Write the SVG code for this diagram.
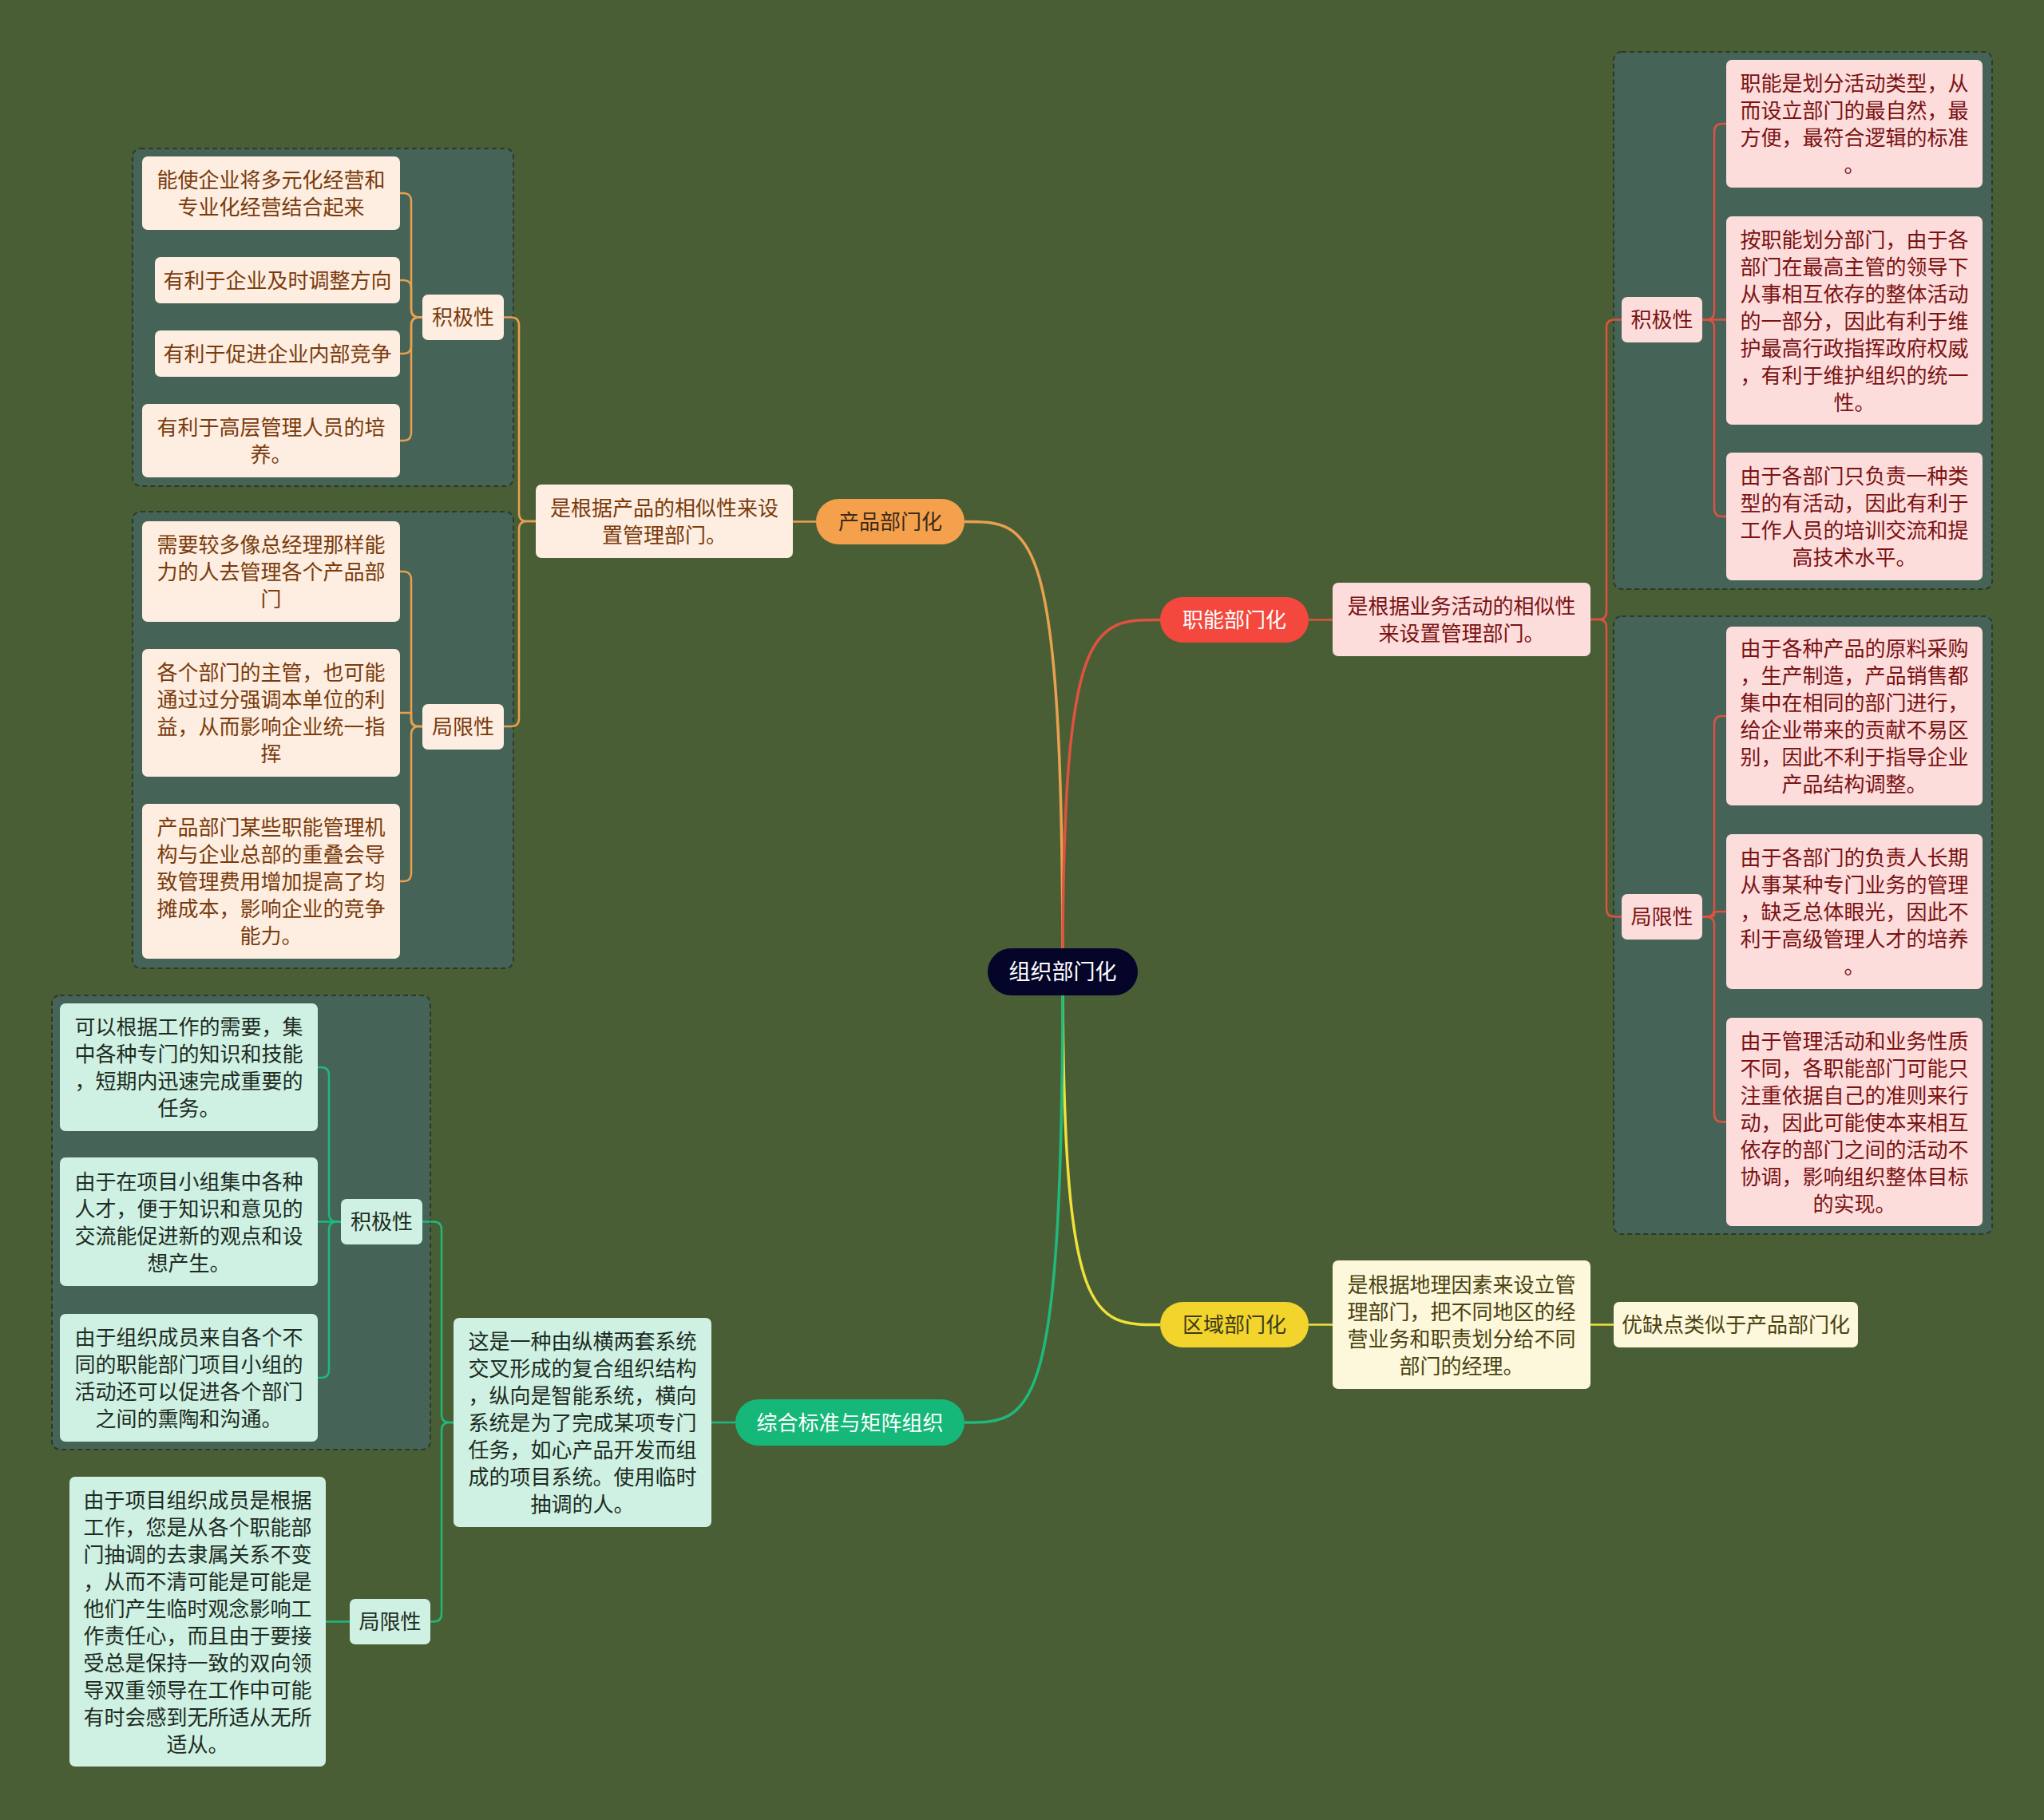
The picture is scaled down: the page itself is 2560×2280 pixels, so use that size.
<svg xmlns="http://www.w3.org/2000/svg" width="2560" height="2280" viewBox="0 0 2560 2280">
<style>
text{font-family:"Noto Sans CJK SC","Noto Sans",sans-serif;font-size:26px;text-anchor:middle;dominant-baseline:central;transform:translateY(-2px)}
.grp{fill:#466357;stroke:#2c3a2a;stroke-width:2;stroke-dasharray:6 4}
.pbox{fill:#fdeee1}.ptx{fill:#7a3b0c}
.fbox{fill:#fddcdc}.ftx{fill:#7a1212}
.rbox{fill:#fdf8dc}.rtx{fill:#4a4210}
.gbox{fill:#cff1e3}.gtx{fill:#1d2b22}
.c{fill:none;stroke-width:2.5}
.m{fill:none;stroke-width:3.5}
.co{stroke:#e8a14f}.cr{stroke:#e0523f}.cy{stroke:#efe03a}.cg{stroke:#1fb97c}
</style>
<rect width="2560" height="2280" fill="#4a5e35"/>

<rect class="grp" x="166" y="186" width="477" height="423" rx="10"/>
<rect class="grp" x="166" y="641" width="477" height="572" rx="10"/>
<rect class="grp" x="2021" y="65" width="474" height="673" rx="10"/>
<rect class="grp" x="2021" y="772" width="474" height="774" rx="10"/>
<rect class="grp" x="65" y="1247" width="474" height="569" rx="10"/>

<g id="connectors">
<path class="m co" d="M1331 1217.5 C1331 653.5 1294 653.5 1208 653.5"/>
<path class="m cr" d="M1331 1217.5 C1331 776.5 1368 776.5 1453 776.5"/>
<path class="m cy" d="M1331 1217.5 C1331 1659.5 1368 1659.5 1453 1659.5"/>
<path class="m cg" d="M1331 1217.5 C1331 1782 1294 1782 1208 1782"/>

<path class="c co" d="M1022 653.5 H993"/>
<path class="c co" d="M671 653 H660 Q650 653 650 643 V407.5 Q650 397.5 640 397.5 H631"/>
<path class="c co" d="M671 653 H660 Q650 653 650 663 V900 Q650 910 640 910 H631"/>
<path class="c co" d="M529 397.5 H525 Q515 397.5 515 387.5 V252 Q515 242 505 242 H501"/>
<path class="c co" d="M529 397.5 H525 Q515 397.5 515 387.5 V361 Q515 351 505 351 H501"/>
<path class="c co" d="M529 397.5 H525 Q515 397.5 515 407.5 V433 Q515 443 505 443 H501"/>
<path class="c co" d="M529 397.5 H525 Q515 397.5 515 407.5 V542 Q515 552 505 552 H501"/>
<path class="c co" d="M529 910 H525 Q515 910 515 900 V726 Q515 716 505 716 H501"/>
<path class="c co" d="M529 910 H525 Q515 910 515 903 V893 H501"/>
<path class="c co" d="M529 910 H525 Q515 910 515 920 V1094 Q515 1104 505 1104 H501"/>

<path class="c cr" d="M1639 776.5 H1669"/>
<path class="c cr" d="M1992 776 H2002 Q2012 776 2012 766 V410.5 Q2012 400.5 2022 400.5 H2031"/>
<path class="c cr" d="M1992 776 H2002 Q2012 776 2012 786 V1138.5 Q2012 1148.5 2022 1148.5 H2031"/>
<path class="c cr" d="M2132 400.5 H2137 Q2147 400.5 2147 390.5 V165 Q2147 155 2157 155 H2162"/>
<path class="c cr" d="M2132 400.5 H2162"/>
<path class="c cr" d="M2132 400.5 H2137 Q2147 400.5 2147 410.5 V637 Q2147 647 2157 647 H2162"/>
<path class="c cr" d="M2132 1148.5 H2137 Q2147 1148.5 2147 1138.5 V907 Q2147 897 2157 897 H2162"/>
<path class="c cr" d="M2132 1148.5 H2142 Q2147 1148.5 2147 1145 Q2147 1142 2152 1142 H2162"/>
<path class="c cr" d="M2132 1148.5 H2137 Q2147 1148.5 2147 1158.5 V1395.5 Q2147 1405.5 2157 1405.5 H2162"/>

<path class="c cy" d="M1639 1659.5 H1669"/>
<path class="c cy" d="M1992 1659.5 H2021"/>

<path class="c cg" d="M921 1782 H891"/>
<path class="c cg" d="M568 1782 H563 Q553 1782 553 1772 V1540.5 Q553 1530.5 543 1530.5 H529"/>
<path class="c cg" d="M568 1782 H563 Q553 1782 553 1792 V2021.5 Q553 2031.5 543 2031.5 H539"/>
<path class="c cg" d="M427 1530.5 H422 Q412 1530.5 412 1520.5 V1347 Q412 1337 402 1337 H398"/>
<path class="c cg" d="M427 1530.5 H398"/>
<path class="c cg" d="M427 1530.5 H422 Q412 1530.5 412 1540.5 V1716 Q412 1726 402 1726 H398"/>
<path class="c cg" d="M438 2031.5 H408"/>
</g>

<g id="n-root">
<rect x="1237" y="1188" width="188" height="59" rx="29.5" fill="#05052a"/>
<text x="1331" y="1217.5" fill="#ffffff" style="font-size:27px">组织部门化</text>
</g>

<g id="n-product">
<rect x="1022" y="625" width="186" height="57" rx="28.5" fill="#f5a04c"/>
<text x="1115" y="653.5" fill="#3b2a18">产品部门化</text>
</g>
<g id="n-product-desc">
<rect class="pbox" x="671" y="607" width="322" height="92" rx="7"/>
<text class="ptx"><tspan x="832" y="636">是根据产品的相似性来设</tspan><tspan x="832" y="670">置管理部门。</tspan></text>
</g>
<g id="n-product-pos">
<rect class="pbox" x="529" y="369" width="102" height="57" rx="7"/>
<text class="ptx" x="580" y="397.5">积极性</text>
</g>
<g id="n-product-pos-1">
<rect class="pbox" x="178" y="196" width="323" height="92" rx="7"/>
<text class="ptx"><tspan x="339.5" y="225">能使企业将多元化经营和</tspan><tspan x="339.5" y="259">专业化经营结合起来</tspan></text>
</g>
<g id="n-product-pos-2">
<rect class="pbox" x="194" y="322" width="307" height="58" rx="7"/>
<text class="ptx" x="347.5" y="351">有利于企业及时调整方向</text>
</g>
<g id="n-product-pos-3">
<rect class="pbox" x="194" y="414" width="307" height="58" rx="7"/>
<text class="ptx" x="347.5" y="443">有利于促进企业内部竞争</text>
</g>
<g id="n-product-pos-4">
<rect class="pbox" x="178" y="506" width="323" height="92" rx="7"/>
<text class="ptx"><tspan x="339.5" y="535">有利于高层管理人员的培</tspan><tspan x="339.5" y="569">养。</tspan></text>
</g>
<g id="n-product-neg">
<rect class="pbox" x="529" y="882" width="102" height="57" rx="7"/>
<text class="ptx" x="580" y="910.5">局限性</text>
</g>
<g id="n-product-neg-1">
<rect class="pbox" x="178" y="653" width="323" height="126" rx="7"/>
<text class="ptx"><tspan x="339.5" y="682">需要较多像总经理那样能</tspan><tspan x="339.5" y="716">力的人去管理各个产品部</tspan><tspan x="339.5" y="750">门</tspan></text>
</g>
<g id="n-product-neg-2">
<rect class="pbox" x="178" y="813" width="323" height="160" rx="7"/>
<text class="ptx"><tspan x="339.5" y="842">各个部门的主管，也可能</tspan><tspan x="339.5" y="876">通过过分强调本单位的利</tspan><tspan x="339.5" y="910">益，从而影响企业统一指</tspan><tspan x="339.5" y="944">挥</tspan></text>
</g>
<g id="n-product-neg-3">
<rect class="pbox" x="178" y="1007" width="323" height="194" rx="7"/>
<text class="ptx"><tspan x="339.5" y="1036">产品部门某些职能管理机</tspan><tspan x="339.5" y="1070">构与企业总部的重叠会导</tspan><tspan x="339.5" y="1104">致管理费用增加提高了均</tspan><tspan x="339.5" y="1138">摊成本，影响企业的竞争</tspan><tspan x="339.5" y="1172">能力。</tspan></text>
</g>

<g id="n-func">
<rect x="1453" y="748" width="186" height="57" rx="28.5" fill="#f4483e"/>
<text x="1546" y="776.5" fill="#ffffff">职能部门化</text>
</g>
<g id="n-func-desc">
<rect class="fbox" x="1669" y="730" width="323" height="92" rx="7"/>
<text class="ftx"><tspan x="1830.5" y="759">是根据业务活动的相似性</tspan><tspan x="1830.5" y="793">来设置管理部门。</tspan></text>
</g>
<g id="n-func-pos">
<rect class="fbox" x="2031" y="372" width="101" height="57" rx="7"/>
<text class="ftx" x="2081.5" y="400.5">积极性</text>
</g>
<g id="n-func-pos-1">
<rect class="fbox" x="2162" y="75" width="321" height="160" rx="7"/>
<text class="ftx"><tspan x="2322.5" y="104">职能是划分活动类型，从</tspan><tspan x="2322.5" y="138">而设立部门的最自然，最</tspan><tspan x="2322.5" y="172">方便，最符合逻辑的标准</tspan><tspan x="2322.5" y="206">。</tspan></text>
</g>
<g id="n-func-pos-2">
<rect class="fbox" x="2162" y="271" width="321" height="261" rx="7"/>
<text class="ftx"><tspan x="2322.5" y="299.5">按职能划分部门，由于各</tspan><tspan x="2322.5" y="333.5">部门在最高主管的领导下</tspan><tspan x="2322.5" y="367.5">从事相互依存的整体活动</tspan><tspan x="2322.5" y="401.5">的一部分，因此有利于维</tspan><tspan x="2322.5" y="435.5">护最高行政指挥政府权威</tspan><tspan x="2322.5" y="469.5">，有利于维护组织的统一</tspan><tspan x="2322.5" y="503.5">性。</tspan></text>
</g>
<g id="n-func-pos-3">
<rect class="fbox" x="2162" y="567" width="321" height="160" rx="7"/>
<text class="ftx"><tspan x="2322.5" y="596">由于各部门只负责一种类</tspan><tspan x="2322.5" y="630">型的有活动，因此有利于</tspan><tspan x="2322.5" y="664">工作人员的培训交流和提</tspan><tspan x="2322.5" y="698">高技术水平。</tspan></text>
</g>
<g id="n-func-neg">
<rect class="fbox" x="2031" y="1120" width="101" height="57" rx="7"/>
<text class="ftx" x="2081.5" y="1148.5">局限性</text>
</g>
<g id="n-func-neg-1">
<rect class="fbox" x="2162" y="785" width="321" height="224" rx="7"/>
<text class="ftx"><tspan x="2322.5" y="812">由于各种产品的原料采购</tspan><tspan x="2322.5" y="846">，生产制造，产品销售都</tspan><tspan x="2322.5" y="880">集中在相同的部门进行，</tspan><tspan x="2322.5" y="914">给企业带来的贡献不易区</tspan><tspan x="2322.5" y="948">别，因此不利于指导企业</tspan><tspan x="2322.5" y="982">产品结构调整。</tspan></text>
</g>
<g id="n-func-neg-2">
<rect class="fbox" x="2162" y="1045" width="321" height="194" rx="7"/>
<text class="ftx"><tspan x="2322.5" y="1074">由于各部门的负责人长期</tspan><tspan x="2322.5" y="1108">从事某种专门业务的管理</tspan><tspan x="2322.5" y="1142">，缺乏总体眼光，因此不</tspan><tspan x="2322.5" y="1176">利于高级管理人才的培养</tspan><tspan x="2322.5" y="1210">。</tspan></text>
</g>
<g id="n-func-neg-3">
<rect class="fbox" x="2162" y="1275" width="321" height="261" rx="7"/>
<text class="ftx"><tspan x="2322.5" y="1303.5">由于管理活动和业务性质</tspan><tspan x="2322.5" y="1337.5">不同，各职能部门可能只</tspan><tspan x="2322.5" y="1371.5">注重依据自己的准则来行</tspan><tspan x="2322.5" y="1405.5">动，因此可能使本来相互</tspan><tspan x="2322.5" y="1439.5">依存的部门之间的活动不</tspan><tspan x="2322.5" y="1473.5">协调，影响组织整体目标</tspan><tspan x="2322.5" y="1507.5">的实现。</tspan></text>
</g>

<g id="n-region">
<rect x="1453" y="1631" width="186" height="57" rx="28.5" fill="#f2d42c"/>
<text x="1546" y="1659.5" fill="#3a3a1a">区域部门化</text>
</g>
<g id="n-region-desc">
<rect class="rbox" x="1669" y="1579" width="323" height="161" rx="7"/>
<text class="rtx"><tspan x="1830.5" y="1608.5">是根据地理因素来设立管</tspan><tspan x="1830.5" y="1642.5">理部门，把不同地区的经</tspan><tspan x="1830.5" y="1676.5">营业务和职责划分给不同</tspan><tspan x="1830.5" y="1710.5">部门的经理。</tspan></text>
</g>
<g id="n-region-1">
<rect class="rbox" x="2021" y="1631" width="306" height="57" rx="7"/>
<text class="rtx" x="2174" y="1659.5">优缺点类似于产品部门化</text>
</g>

<g id="n-matrix">
<rect x="921" y="1753" width="287" height="58" rx="29" fill="#16b87a"/>
<text x="1064.5" y="1782" fill="#ffffff">综合标准与矩阵组织</text>
</g>
<g id="n-matrix-desc">
<rect class="gbox" x="568" y="1651" width="323" height="262" rx="7"/>
<text class="gtx"><tspan x="729.5" y="1680">这是一种由纵横两套系统</tspan><tspan x="729.5" y="1714">交叉形成的复合组织结构</tspan><tspan x="729.5" y="1748">，纵向是智能系统，横向</tspan><tspan x="729.5" y="1782">系统是为了完成某项专门</tspan><tspan x="729.5" y="1816">任务，如心产品开发而组</tspan><tspan x="729.5" y="1850">成的项目系统。使用临时</tspan><tspan x="729.5" y="1884">抽调的人。</tspan></text>
</g>
<g id="n-matrix-pos">
<rect class="gbox" x="427" y="1502" width="102" height="57" rx="7"/>
<text class="gtx" x="478" y="1530.5">积极性</text>
</g>
<g id="n-matrix-pos-1">
<rect class="gbox" x="75" y="1257" width="323" height="160" rx="7"/>
<text class="gtx"><tspan x="236.5" y="1286">可以根据工作的需要，集</tspan><tspan x="236.5" y="1320">中各种专门的知识和技能</tspan><tspan x="236.5" y="1354">，短期内迅速完成重要的</tspan><tspan x="236.5" y="1388">任务。</tspan></text>
</g>
<g id="n-matrix-pos-2">
<rect class="gbox" x="75" y="1450" width="323" height="161" rx="7"/>
<text class="gtx"><tspan x="236.5" y="1479.5">由于在项目小组集中各种</tspan><tspan x="236.5" y="1513.5">人才，便于知识和意见的</tspan><tspan x="236.5" y="1547.5">交流能促进新的观点和设</tspan><tspan x="236.5" y="1581.5">想产生。</tspan></text>
</g>
<g id="n-matrix-pos-3">
<rect class="gbox" x="75" y="1646" width="323" height="160" rx="7"/>
<text class="gtx"><tspan x="236.5" y="1675">由于组织成员来自各个不</tspan><tspan x="236.5" y="1709">同的职能部门项目小组的</tspan><tspan x="236.5" y="1743">活动还可以促进各个部门</tspan><tspan x="236.5" y="1777">之间的熏陶和沟通。</tspan></text>
</g>
<g id="n-matrix-neg">
<rect class="gbox" x="438" y="2003" width="101" height="57" rx="7"/>
<text class="gtx" x="488.5" y="2031.5">局限性</text>
</g>
<g id="n-matrix-neg-1">
<rect class="gbox" x="87" y="1850" width="321" height="363" rx="7"/>
<text class="gtx"><tspan x="247.5" y="1878.5">由于项目组织成员是根据</tspan><tspan x="247.5" y="1912.5">工作，您是从各个职能部</tspan><tspan x="247.5" y="1946.5">门抽调的去隶属关系不变</tspan><tspan x="247.5" y="1980.5">，从而不清可能是可能是</tspan><tspan x="247.5" y="2014.5">他们产生临时观念影响工</tspan><tspan x="247.5" y="2048.5">作责任心，而且由于要接</tspan><tspan x="247.5" y="2082.5">受总是保持一致的双向领</tspan><tspan x="247.5" y="2116.5">导双重领导在工作中可能</tspan><tspan x="247.5" y="2150.5">有时会感到无所适从无所</tspan><tspan x="247.5" y="2184.5">适从。</tspan></text>
</g>
</svg>
